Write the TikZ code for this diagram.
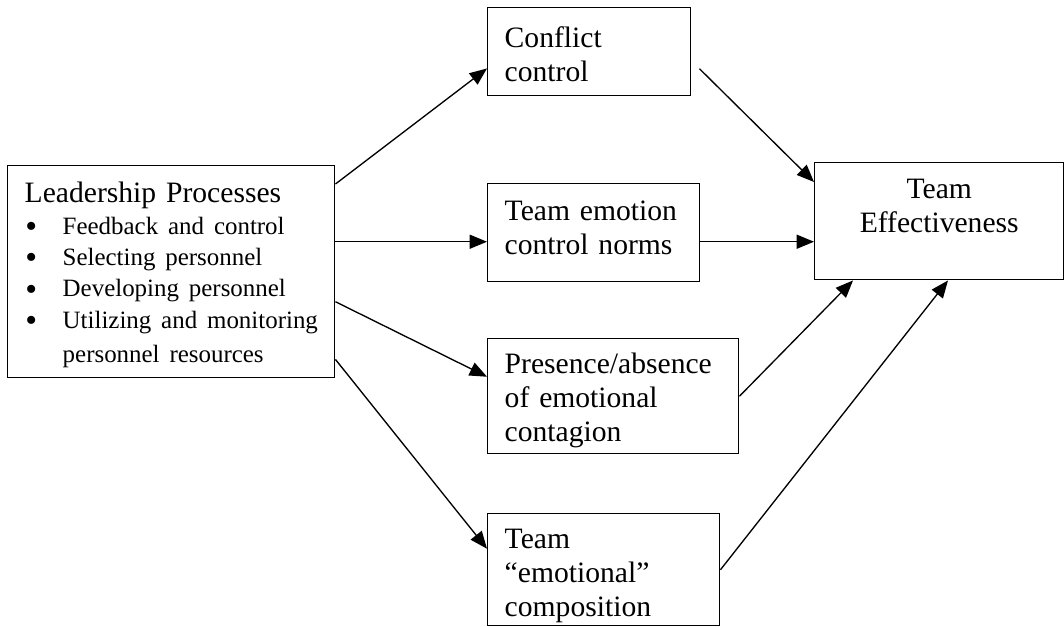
\documentclass[tikz,border=0pt]{standalone}
\usepackage{fontspec}
\setmainfont{Liberation Serif}
\usetikzlibrary{arrows.meta}

\newcommand{\lpitem}[1]{\mbox{\makebox[28.5pt][l]{\hspace{0.5pt}\smash{\raisebox{-2.6pt}{\scalebox{1.35}{\textbullet}}}}#1}}

\begin{document}
\begin{tikzpicture}[x=0.75pt, y=-0.75pt,
		box/.style={draw, line width=1.1pt, anchor=north west, inner xsep=12.75pt, inner ysep=3pt, align=left, font=\fontsize{22.2}{25.5}\selectfont},
		arr/.style={-{Triangle[length=13pt, width=10.5pt]}, line width=1pt}
		]
	\useasboundingbox (0,0) rectangle (1064,627);

	% Cadres
	\node[box, minimum width=245.25pt, minimum height=159pt, text width=219.75pt, text depth=119pt] (lead) at (7,165) {\mbox{Leadership Processes}\\
		\fontsize{18.7}{23.5}\selectfont
		\lpitem{Feedback and control}\\
		\lpitem{Selecting personnel}\\
		\lpitem{Developing personnel}\\
		\lpitem{Utilizing and monitoring}\\
		\mbox{\hspace*{28.5pt}personnel resources}};
	\node[box, minimum width=152.25pt, minimum height=66pt, text width=126.75pt, text depth=21.6pt] (conflict) at (487,7) {Conflict\\control};
	\node[box, minimum width=159pt, minimum height=73.5pt, text width=133.5pt, text depth=32.7pt] (norms) at (487,183) {Team emotion\\control norms};
	\node[box, minimum width=188.25pt, minimum height=86.25pt, text width=162.75pt, text depth=49pt] (contagion) at (487,338) {Presence/absence\\of emotional\\contagion};
	\node[box, minimum width=174pt, minimum height=84pt, text width=148.5pt, text depth=46.2pt] (compo) at (487,513) {Team\\“emotional”\\composition};
	\node[box, align=center, minimum width=186.75pt, minimum height=87.75pt, text width=161.25pt, text depth=48.5pt] (effect) at (814,162) {Team\\Effectiveness};

	\coordinate (cstart) at ([shift={(8,17)}]conflict.east);

	% Fleches
	\draw[arr] ([shift={(0,19)}]lead.north east) -- ([shift={(0,-28)}]conflict.south west);
	\draw[arr] ([shift={(0,-30)}]lead.east) -- ([shift={(0,9)}]norms.west);
	\draw[arr] ([shift={(0,30)}]lead.east) -- ([shift={(0,-19.5)}]contagion.west);
	\draw[arr] ([shift={(0,-19)}]lead.south east) -- ([shift={(0,-21)}]compo.west);
	\draw[arr] (cstart) -- ([shift={(0,20)}]effect.north west);
	\draw[arr] ([shift={(0,9)}]norms.east) -- ([shift={(0,20.5)}]effect.west);
	\draw[arr] (contagion.east) -- ([shift={(39,0)}]effect.south west);
	\draw[arr] (compo.east) -- ([shift={(134,0)}]effect.south west);
\end{tikzpicture}
\end{document}
